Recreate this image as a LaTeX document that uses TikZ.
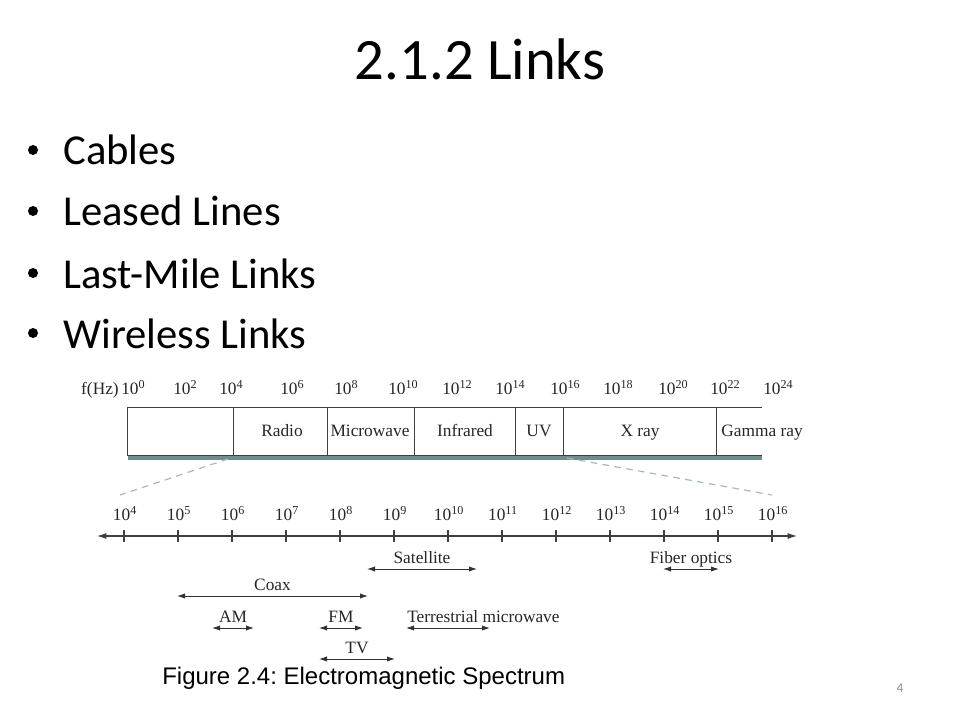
\documentclass[tikz,border=0pt]{standalone}
\usepackage{fontspec}
\setmainfont{Carlito}
\newfontfamily\figfont{Liberation Serif}
\newfontfamily\capfont{Liberation Sans}
\usetikzlibrary{arrows.meta}
\definecolor{shadowline}{RGB}{112,140,140}
\definecolor{guideline}{RGB}{170,184,188}
\newcommand\pwr[1]{10\textsuperscript{#1}}
\frenchspacing
\begin{document}
\begin{tikzpicture}[x=0.75pt,y=-0.75pt,
 bul/.style={circle,fill=black,inner sep=0pt,minimum size=7.5pt},
 item/.style={anchor=base west,inner sep=0pt,font=\fontsize{32}{32}\selectfont},
 lbl/.style={inner sep=0pt,text=black!85,font=\figfont\fontsize{13}{13}\selectfont},
 band/.style={draw=black!75,line width=0.6pt},
 rng/.style={draw=black!80,line width=0.7pt,{Latex[length=6pt,width=4pt]}-{Latex[length=6pt,width=4pt]}},
 guide/.style={draw=guideline,line width=0.9pt,dash pattern=on 5pt off 4pt}]
 \useasboundingbox (0,0) rectangle (960,720);
 \node[anchor=base,inner sep=0pt,font=\fontsize{44}{44}\selectfont] (title) at (480,80) {2.1.2 Links};
 \foreach \n/\y/\t in {1/165/Cables,2/226/Leased Lines,3/288/Last-Mile Links,4/348/Wireless Links}{
  \node[bul] (b\n) at (33,\y-15) {};
  \node[item] (i\n) at (63,\y) {\t};
 }
 \node[lbl,anchor=base east] (fhz) at (119,394) {f(Hz)};
 \foreach \e/\x in {0/121,2/173,4/219,6/280,8/334,10/388,12/442,14/495,16/550,18/603,20/658,22/710,24/763}
  \node[lbl,anchor=base west] (top\e) at (\x,394) {\pwr{\e}};
 \draw[shadowline,line width=3pt] (128,458) -- (762,458);
 \draw[band] (762,407) -- (127,407) -- (127,455) -- (762,455);
 \foreach \x in {233,327,414,515,563,716}
  \draw[band] (\x,407) -- (\x,455);
 \foreach \nm/\x/\t in {radio/282/Radio,micro/370/Microwave,infra/465/Infrared,uv/539/UV,xray/640/X ray,gamma/762/Gamma ray}
  \node[lbl,anchor=base] (\nm) at (\x,436) {\t};
 \coordinate (g1) at (228,459);
 \coordinate (g2) at (120,495);
 \coordinate (g3) at (567,458);
 \coordinate (g4) at (772,495);
 \draw[guide] (g1) -- (g2);
 \draw[guide] (g3) -- (g4);
 \coordinate (axl) at (97,536);
 \coordinate (axr) at (797,536);
 \draw[draw=black!75,line width=0.8pt,{Latex[length=7pt,width=4.5pt]}-{Latex[length=7pt,width=4.5pt]}] (axl) -- (axr);
 \foreach \k in {4,...,16}{
  \coordinate (t\k) at ({124+54*(\k-4)},536);
  \draw[black!75,line width=0.8pt] ([yshift=4.5pt]t\k) -- ([yshift=-4.5pt]t\k);
  \node[lbl,anchor=base] (n\k) at ({125+54*(\k-4)},520) {\pwr{\k}};
 }
 \foreach \nm/\a/\b/\y/\t in {sat/367/477/569/Satellite,coax/177/368/596/Coax,am/212/254/628/AM,fm/319/363/628/FM,tv/319/395/659/TV,fib/663/719/569/Fiber optics}{
  \coordinate (\nm-l) at (\a,\y);
  \coordinate (\nm-r) at (\b,\y);
  \draw[rng] (\nm-l) -- (\nm-r);
  \node[lbl,anchor=base] (\nm) at ({(\a+\b)/2},\y-6) {\t};
 }
 \coordinate (ter-l) at (406,628);
 \coordinate (ter-r) at (490,628);
 \draw[rng] (ter-l) -- (ter-r);
 \node[lbl,anchor=base west] (ter) at (407,622) {Terrestrial microwave};
 \node[anchor=base west,inner sep=0pt,font=\capfont\fontsize{18}{18}\selectfont] (cap) at (162,684) {Figure 2.4: Electromagnetic Spectrum};
 \node[anchor=base,inner sep=0pt,text=black!45,font=\fontsize{10}{10}\selectfont] (page) at (900,692) {4};
\end{tikzpicture}
\end{document}
